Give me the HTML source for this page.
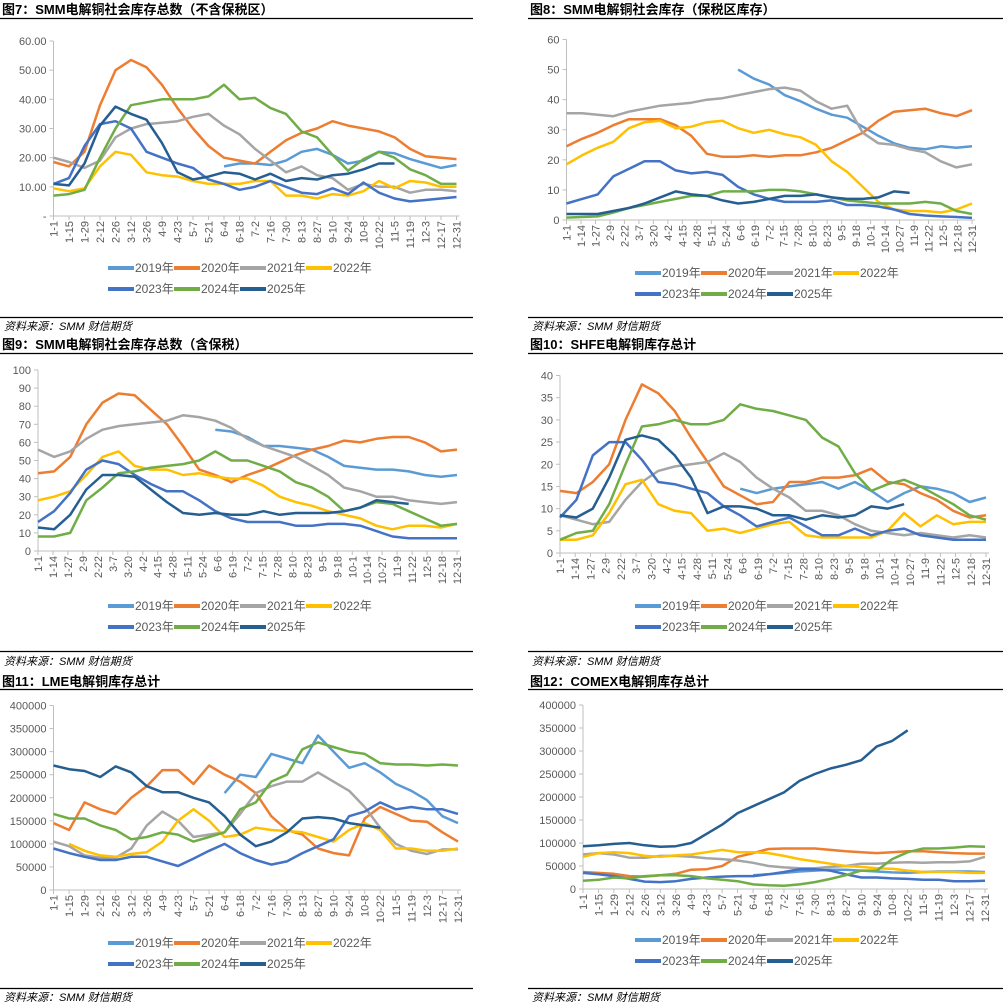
<!DOCTYPE html>
<html><head><meta charset="utf-8"><style>
body{margin:0;background:#fff;}
svg{display:block;font-family:"Liberation Sans","Noto Sans CJK SC",sans-serif;}
.t{font-weight:bold;font-size:13px;fill:#000;}
.s{font-style:italic;font-size:11px;fill:#000;}
.ax{font-size:11px;fill:#595959;}
.lg{font-size:12px;fill:#595959;}
</style></head><body>
<svg id="c" width="1003" height="1007" viewBox="0 0 1003 1007" xmlns="http://www.w3.org/2000/svg">
<text class="t" x="2" y="14">图7：SMM电解铜社会库存总数（不含保税区）</text>
<text class="t" x="530" y="14">图8：SMM电解铜社会库存（保税区库存）</text>
<text class="t" x="2" y="349">图9：SMM电解铜社会库存总数（含保税）</text>
<text class="t" x="530" y="349">图10：SHFE电解铜库存总计</text>
<text class="t" x="2" y="686">图11：LME电解铜库存总计</text>
<text class="t" x="530" y="686">图12：COMEX电解铜库存总计</text>
<g stroke="#000" stroke-width="1.2">
<line x1="0" y1="18.5" x2="473" y2="18.5"/><line x1="528" y1="18.5" x2="1003" y2="18.5"/>
<line x1="0" y1="317.5" x2="473" y2="317.5"/><line x1="528" y1="317.5" x2="1003" y2="317.5"/>
<line x1="0" y1="353.5" x2="473" y2="353.5"/><line x1="528" y1="353.5" x2="1003" y2="353.5"/>
<line x1="0" y1="651.5" x2="473" y2="651.5"/><line x1="528" y1="651.5" x2="1003" y2="651.5"/>
<line x1="0" y1="689.5" x2="473" y2="689.5"/><line x1="528" y1="689.5" x2="1003" y2="689.5"/>
<line x1="0" y1="988.5" x2="473" y2="988.5"/><line x1="528" y1="988.5" x2="1003" y2="988.5"/>
</g>
<text class="s" x="4" y="330">资料来源：SMM 财信期货</text>
<text class="s" x="532" y="330">资料来源：SMM 财信期货</text>
<text class="s" x="4" y="665">资料来源：SMM 财信期货</text>
<text class="s" x="532" y="665">资料来源：SMM 财信期货</text>
<text class="s" x="4" y="1001">资料来源：SMM 财信期货</text>
<text class="s" x="532" y="1001">资料来源：SMM 财信期货</text>
</svg>
<script>
const years=["2019年","2020年","2021年","2022年","2023年","2024年","2025年"];
const colors=["#5B9BD5","#ED7D31","#A5A5A5","#FFC000","#4472C4","#70AD47","#255E91"];
const labelsA=["1-1","1-15","1-29","2-12","2-26","3-12","3-26","4-9","4-23","5-7","5-21","6-4","6-18","7-2","7-16","7-30","8-13","8-27","9-10","9-24","10-8","10-22","11-5","11-19","12-3","12-17","12-31"];
const labelsB=["1-1","1-14","1-27","2-9","2-22","3-7","3-20","4-2","4-15","4-28","5-11","5-24","6-6","6-19","7-2","7-15","7-28","8-10","8-23","9-5","9-18","10-1","10-14","10-27","11-9","11-22","12-5","12-18","12-31"];
const N=null;
// Fig7
const f7_2019=[N,N,N,N,N,N,N,N,N,N,N,17,18,18,17.5,19,22,23,21,18,19,22,21.5,19.5,18,16.5,17.5];
const f7_2020=[18.5,17,22,38,50,53.5,51,45,37,30,24,20,19,18,22,26,28.5,30,32.5,31,30,29,27,23,20.5,20,19.5];
const f7_2021=[20,18.5,16.5,19,27,30,31.5,32,32.5,34,35,31,28,23,19,15,17,14,13,9,11,10,10,8,9,9,8.5];
const f7_2022=[9.5,8.5,9.5,17,22,21,15,14,13.5,12,11,11,11,12,12,7,7,6,7.5,7,8.5,12,9.5,12,11.5,10,10];
const f7_2023=[11,13,24,31.5,32.5,30,22,20,18,16.5,12.5,11,9,10,12,10,8,7.5,9.5,7.5,11.5,8,6,5,5.5,6,6.5];
const f7_2024=[7,7.5,9,20,30,38,39,40,40,40,41,45,40,40.5,37,35,29,27,21,15.5,19.5,22,20,16,14,11,11];
const f7_2025=[11,10.5,18,31,37.5,35,33,25,15,12.5,13.5,15,14.5,12.5,14.5,12,13,12.5,14,14.5,16,18,18,N,N,N,N];
// Fig8
const f8_2019=[N,N,N,N,N,N,N,N,N,N,N,50,47,45,41.5,39.5,37,35,34,31,28,25.5,24,23.5,24.5,24,24.5];
const f8_2020=[24.5,27,29,31.5,33.5,33.5,33.5,31.5,28,22,21,21,21.5,21,21.5,21.5,22.5,24,26.5,29,33,36,36.5,37,35.5,34.5,36.5];
const f8_2021=[35.5,35.5,35,34.5,36,37,38,38.5,39,40,40.5,41.5,42.5,43.5,44,43,39.5,37,38,29,25.5,25,23.5,22.5,19.5,17.5,18.5];
const f8_2022=[18.5,21.5,24,26,30.5,32.5,33,30.5,31,32.5,33,30.5,29,30,28.5,27.5,25,19.5,16,11,6,3.5,3,3,2.5,3.5,5.5];
const f8_2023=[5.5,7,8.5,14.5,17,19.5,19.5,16.5,15.5,16,15,11,8.5,7,6,6,6,6.5,5,5,4.5,3.5,2,1.5,1.2,1,0.7];
const f8_2024=[0.8,1,1.2,2.5,4,5,6,7,8,8,9.5,9.5,9.5,10,10,9.5,8.5,7.5,6.5,6,5.5,5.5,5.5,6,5.5,3,2];
const f8_2025=[2,2,2,3,4,5.5,7.5,9.5,8.5,8,6.5,5.5,6,7,8,8,8.5,7.5,7,7,7.5,9.5,9,N,N,N,N];
// Fig9
const f9_2019=[N,N,N,N,N,N,N,N,N,N,N,67,66,63,58,58,57,56,52,47,46,45,45,44,42,41,42];
const f9_2020=[43,44,52,70,82,87,86,78,70,58,45,42,38,42,45,49,53,56,58,61,60,62,63,63,60,55,56];
const f9_2021=[56,52,55,62,67,69,70,71,72,75,74,72,68,62,58,55,52,47,42,35,33,30,30,28,27,26,27];
const f9_2022=[28,30,33,42,52,55,47,45,45,42,43,41,40,40,36,30,27,25,22,20,18,14,12,14,14,13,15];
const f9_2023=[16,22,32,45,50,48,42,37,33,33,28,22,18,16,16,16,14,14,15,15,14,11,8,7,7,7,7];
const f9_2024=[8,8,10,28,35,43,44,46,47,48,50,55,50,50,47,44,38,35,30,22,24,27,26,22,18,14,15];
const f9_2025=[13,12,20,34,42,42,41,34,27,21,20,21,20,20,22,20,21,21,21,22,24,28,27,26,N,N,N];
// Fig10
const f10_2019=[N,N,N,N,N,N,N,N,N,N,N,14.5,13.5,14.5,15,15.5,16,14.5,16,14,11.5,13.5,15,14.5,13.5,11.5,12.5];
const f10_2020=[14,13.5,16,20,30,38,36,32,26,20.5,15,13,11,11.5,16,16,17,17,17.5,19,16,15.5,13.5,12,9.5,8,8.5];
const f10_2021=[8.5,7.5,6.5,7,12,16,18.5,19.5,20,20.5,22.5,20.5,17,14.5,12.5,9.5,9.5,8.5,6.5,5,4.5,4,4.5,4,3.5,4,3.5];
const f10_2022=[3,3,4,9,15.5,16.5,11,9.5,9,5,5.5,4.5,5.5,6.5,7,4,3.5,3.5,3.5,3.5,5,9,6,8.5,6.5,7,7];
const f10_2023=[8,12,22,25,25,21,16,15.5,14.5,13.5,10.5,8.5,6,7,8,6,4,4,5.5,4,5,5.5,4,3.5,3,3,3];
const f10_2024=[3,4.5,5,11,20,28.5,29,30,29,29,30,33.5,32.5,32,31,30,26,24,18,14,15.5,16.5,15,13,11,8.5,7.5];
const f10_2025=[8.5,8,10,17,25.5,26.5,25.5,22,17,9,10.5,10.5,10,8.5,8.5,7.5,8.5,8,8.5,10.5,10,11,N,N,N,N,N];
// Fig11
const f11_2019=[N,N,N,N,N,N,N,N,N,N,N,210000,250000,245000,295000,285000,275000,335000,300000,265000,275000,255000,230000,215000,195000,160000,145000];
const f11_2020=[145000,130000,190000,175000,165000,200000,225000,260000,260000,230000,270000,250000,235000,210000,160000,130000,120000,90000,80000,75000,155000,180000,165000,150000,148000,125000,105000];
const f11_2021=[105000,95000,75000,70000,70000,90000,140000,170000,150000,115000,120000,125000,165000,210000,225000,235000,235000,255000,235000,215000,180000,135000,100000,85000,78000,88000,88000];
const f11_2022=[N,100000,85000,75000,72000,78000,82000,105000,150000,175000,150000,115000,120000,135000,130000,128000,125000,115000,105000,130000,145000,130000,90000,90000,85000,85000,90000];
const f11_2023=[90000,80000,72000,65000,65000,72000,72000,62000,52000,68000,85000,100000,80000,65000,55000,62000,80000,95000,110000,160000,170000,190000,175000,180000,175000,175000,165000];
const f11_2024=[165000,155000,155000,140000,130000,110000,115000,125000,120000,105000,115000,125000,175000,190000,235000,250000,305000,320000,310000,300000,295000,275000,272000,272000,270000,272000,270000];
const f11_2025=[270000,262000,258000,245000,268000,255000,225000,212000,212000,200000,190000,160000,120000,95000,105000,125000,155000,158000,155000,145000,140000,135000,N,N,N,N,N];
// Fig12
const f12_2019=[N,N,N,N,N,N,N,N,N,N,N,30000,32000,35000,38000,40000,42000,42000,40000,38000,36000,35000,37000,38000,38000,38000,37000];
const f12_2020=[37000,35000,33000,28000,27000,30000,33000,42000,43000,50000,70000,78000,87000,88000,88000,88000,85000,82000,80000,78000,80000,82000,82000,80000,78000,77000,77000];
const f12_2021=[75000,78000,75000,68000,68000,72000,72000,70000,67000,65000,62000,57000,50000,47000,45000,45000,48000,50000,55000,55000,57000,58000,57000,58000,58000,60000,70000];
const f12_2022=[70000,78000,80000,78000,72000,70000,73000,75000,80000,85000,80000,80000,78000,72000,65000,60000,55000,50000,48000,45000,44000,40000,37000,37000,37000,35000,35000];
const f12_2023=[35000,32000,28000,22000,16000,15000,17000,22000,25000,27000,28000,28000,32000,37000,43000,43000,40000,32000,25000,25000,23000,22000,20000,20000,17000,17000,18000];
const f12_2024=[18000,20000,25000,23000,28000,30000,30000,28000,23000,20000,17000,10000,8000,7000,10000,15000,22000,30000,40000,40000,65000,80000,88000,88000,90000,93000,92000];
const f12_2025=[93000,95000,98000,100000,95000,92000,93000,100000,120000,140000,165000,180000,195000,210000,235000,250000,262000,270000,280000,310000,322000,345000,N,N,N,N,N];
const ticks7=["-","10.00","20.00","30.00","40.00","50.00","60.00"];
const ticks8=["0","10","20","30","40","50","60"];
const ticks9=["0","10","20","30","40","50","60","70","80","90","100"];
const ticks10=["0","5","10","15","20","25","30","35","40"];
const ticksL=["0","50000","100000","150000","200000","250000","300000","350000","400000"];

const NS="http://www.w3.org/2000/svg";
const svg=document.getElementById('c');
function mk(tag,attrs,parent){const e=document.createElementNS(NS,tag);for(const k in attrs)e.setAttribute(k,attrs[k]);(parent||svg).appendChild(e);return e;}
function panel(id,x0,x1,y0,y1,ymax,yticks,xlabels,series,legX,legY){
  const g=mk('g',{});
  
  
  const sx=f=>x0+f*(x1-x0);
  const sy=v=>y1-v/ymax*(y1-y0);
  // y axis
  const ya=mk('line',{x1:x0,y1:y0,x2:x0,y2:y1,stroke:'#bfbfbf','stroke-width':1},g);
  
  
  yticks.forEach((t,i)=>{
    const v=i*ymax/(yticks.length-1);
    mk('line',{x1:x0-4,y1:sy(v),x2:x0,y2:sy(v),stroke:'#bfbfbf'},g);
    const tx=mk('text',{x:x0-7,y:sy(v)+4,'text-anchor':'end',class:'ax'},g);
    tx.textContent=t;
    
    
  });
  const xa=mk('line',{x1:x0,y1:y1,x2:x1+3,y2:y1,stroke:'#bfbfbf','stroke-width':1},g);
  
  
  xlabels.forEach((t,i)=>{
    const x=sx(i/(xlabels.length-1));
    mk('line',{x1:x,y1:y1,x2:x,y2:y1+4,stroke:'#bfbfbf'},g);
    const tx=mk('text',{x:0,y:0,'text-anchor':'end',class:'ax',transform:`translate(${x+4},${y1+5}) rotate(-90)`},g);
    tx.textContent=t;
    
    
  });
  series.forEach((arr,si)=>{
    let d='';let pen=false;
    arr.forEach((v,i)=>{
      if(v===null){pen=false;return;}
      d+=(pen?'L':'M')+sx(i/(arr.length-1)).toFixed(1)+','+sy(v).toFixed(1);pen=true;
    });
    const p=mk('path',{d:d,fill:'none',stroke:colors[si],'stroke-width':2.5,'stroke-linejoin':'round'},g);
    
    
  });
  years.forEach((y,i)=>{
    const lx=legX+(i%4)*66, ly=legY+Math.floor(i/4)*21;
    const le=mk('g',{},g);
    
    
    mk('line',{x1:lx,y1:ly,x2:lx+26,y2:ly,stroke:colors[i],'stroke-width':4},le);
    const tx=mk('text',{x:lx+27,y:ly+4,class:'lg'},le);
    tx.textContent=y;
  });
}
panel('fig7',53.5,456.5,41,216,60,ticks7,labelsA,[f7_2019,f7_2020,f7_2021,f7_2022,f7_2023,f7_2024,f7_2025],108,268);
panel('fig8',566.5,972,39.5,220,60,ticks8,labelsB,[f8_2019,f8_2020,f8_2021,f8_2022,f8_2023,f8_2024,f8_2025],635,273);
panel('fig9',38,457,370,551,100,ticks9,labelsB,[f9_2019,f9_2020,f9_2021,f9_2022,f9_2023,f9_2024,f9_2025],108,606);
panel('fig10',560,986,375.5,553,40,ticks10,labelsB,[f10_2019,f10_2020,f10_2021,f10_2022,f10_2023,f10_2024,f10_2025],635,606);
panel('fig11',53.5,458,705.5,890,400000,ticksL,labelsA,[f11_2019,f11_2020,f11_2021,f11_2022,f11_2023,f11_2024,f11_2025],108,943);
panel('fig12',583,985,705,889,400000,ticksL,labelsA,[f12_2019,f12_2020,f12_2021,f12_2022,f12_2023,f12_2024,f12_2025],635,940);
</script>
</body></html>
